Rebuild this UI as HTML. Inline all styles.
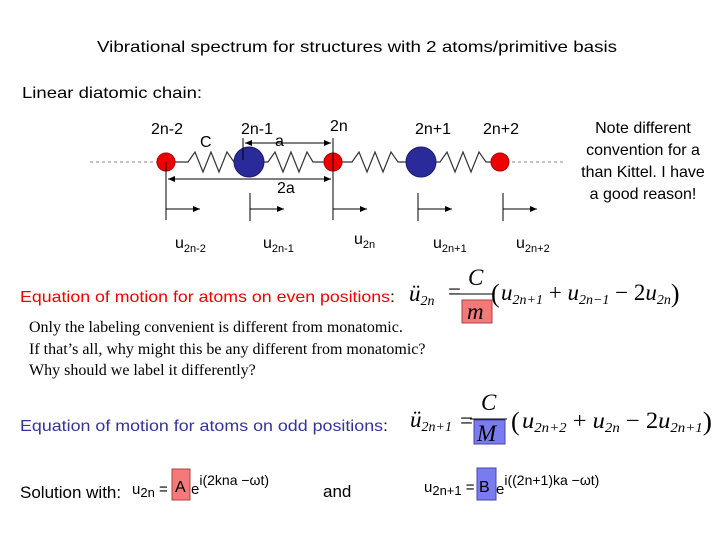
<!DOCTYPE html>
<html><head><meta charset="utf-8"><style>
html,body{margin:0;padding:0;background:#fff;width:720px;height:540px;overflow:hidden}
svg{display:block}
.s{font-family:"Liberation Sans",sans-serif}
.t{font-family:"Liberation Serif",serif}
</style></head><body>
<svg width="720" height="540" xmlns="http://www.w3.org/2000/svg">
<defs><marker id="ah" markerWidth="8" markerHeight="8" refX="7" refY="4" orient="auto" markerUnits="userSpaceOnUse"><path d="M0,1 L7,4 L0,7 z" fill="#000"/></marker>
<marker id="at" markerWidth="8" markerHeight="8" refX="1" refY="4" orient="auto" markerUnits="userSpaceOnUse"><path d="M8,1 L1,4 L8,7 z" fill="#000"/></marker></defs>
<text class="s" x="97" y="52" font-size="16" textLength="520" lengthAdjust="spacingAndGlyphs">Vibrational spectrum for structures with 2 atoms/primitive basis</text>
<text class="s" x="22" y="98" font-size="16" textLength="180" lengthAdjust="spacingAndGlyphs">Linear diatomic chain:</text>
<line x1="90" y1="162" x2="166" y2="162" stroke="#888" stroke-dasharray="3,3"/>
<line x1="500" y1="162" x2="566" y2="162" stroke="#888" stroke-dasharray="3,3"/>
<g fill="none" stroke="#333" stroke-width="1.2">
<polyline points="166,162 188,162 195,152 203,172 211,152 219,172 227,152 234,162 249,162"/>
<polyline points="249,162 268,162 275,152 283,172 291,152 299,172 307,152 313,162 333,162"/>
<polyline points="333,162 352,162 359,152 367,172 375,152 383,172 391,152 398,162 421,162"/>
<polyline points="421,162 440,162 447,152 455,172 463,152 471,172 479,152 486,162 500,162"/>
</g>
<circle cx="166" cy="162" r="9" fill="#e00" stroke="#a00"/>
<circle cx="333" cy="162" r="9" fill="#e00" stroke="#a00"/>
<circle cx="500" cy="162" r="9" fill="#e00" stroke="#a00"/>
<circle cx="249" cy="162" r="15" fill="#2a2a9a" stroke="#1a1a70"/>
<circle cx="421" cy="162" r="15" fill="#2a2a9a" stroke="#1a1a70"/>
<g stroke="#000" stroke-width="1">
<line x1="243" y1="138" x2="243" y2="160"/>
<line x1="333" y1="138" x2="333" y2="220"/>
<line x1="166" y1="162" x2="166" y2="220"/>
<line x1="250" y1="193" x2="250" y2="221"/>
<line x1="418" y1="193" x2="418" y2="221"/>
<line x1="503" y1="193" x2="503" y2="221"/>
<line x1="245" y1="143" x2="331" y2="143" marker-start="url(#at)" marker-end="url(#ah)"/>
<line x1="168" y1="179" x2="331" y2="179" marker-start="url(#at)" marker-end="url(#ah)"/>
<line x1="166" y1="209" x2="200" y2="209" marker-end="url(#ah)"/>
<line x1="250" y1="209" x2="284" y2="209" marker-end="url(#ah)"/>
<line x1="333" y1="209" x2="367" y2="209" marker-end="url(#ah)"/>
<line x1="418" y1="209" x2="452" y2="209" marker-end="url(#ah)"/>
<line x1="503" y1="209" x2="537" y2="209" marker-end="url(#ah)"/>
</g>
<g class="s" font-size="16">
<text x="151" y="134">2n-2</text>
<text x="241" y="134">2n-1</text><text x="275" y="146">a</text>
<text x="330" y="131">2n</text>
<text x="415" y="134">2n+1</text>
<text x="483" y="134">2n+2</text>
<text x="200" y="147">C</text>
<text x="277" y="193">2a</text>
<text x="175" y="248">u<tspan font-size="11" dy="4">2n-2</tspan></text>
<text x="263" y="248">u<tspan font-size="11" dy="4">2n-1</tspan></text>
<text x="354" y="244">u<tspan font-size="11" dy="4">2n</tspan></text>
<text x="433" y="248">u<tspan font-size="11" dy="4">2n+1</tspan></text>
<text x="516" y="248">u<tspan font-size="11" dy="4">2n+2</tspan></text>
<g text-anchor="middle"><text x="643" y="133">Note different</text><text x="643" y="155">convention for a</text><text x="643" y="177">than Kittel. I have</text><text x="643" y="199">a good reason!</text></g>
</g>
<text class="s" x="20" y="302" font-size="16" fill="#e00" textLength="375" lengthAdjust="spacingAndGlyphs">Equation of motion for atoms on even positions<tspan fill="#000">:</tspan></text>
<rect x="462" y="300" width="30" height="23" fill="#f47a7a" stroke="#a44"/>
<g class="t" font-size="23" font-style="italic">
<text x="409" y="301">ü<tspan font-size="14" dy="4">2n</tspan></text>
<text x="448" y="299" font-style="normal">=</text>
<text x="468" y="285">C</text>
<line x1="458" y1="294" x2="494" y2="294" stroke="#000"/>
<text x="467" y="319">m</text>
<text x="491" y="302" font-style="normal" font-size="26">(</text>
<text x="501" y="300">u<tspan font-size="14" dy="4">2n+1</tspan><tspan dy="-4" font-style="normal"> + </tspan>u<tspan font-size="14" dy="4">2n−1</tspan><tspan dy="-4" font-style="normal"> − 2</tspan>u<tspan font-size="14" dy="4">2n</tspan><tspan dy="-2" font-style="normal" font-size="26">)</tspan></text>
</g>
<g class="t" font-size="16">
<text x="29" y="332">Only the labeling convenient is different from monatomic.</text>
<text x="29" y="354">If that’s all, why might this be any different from monatomic?</text>
<text x="29" y="375">Why should we label it differently?</text>
</g>
<text class="s" x="20" y="431" font-size="16" fill="#33339a" textLength="368" lengthAdjust="spacingAndGlyphs">Equation of motion for atoms on odd positions<tspan fill="#000">:</tspan></text>
<rect x="474" y="420" width="31" height="24" fill="#7b7bf0" stroke="#44a"/>
<g class="t" font-size="23" font-style="italic">
<text x="410" y="427">ü<tspan font-size="14" dy="4">2n+1</tspan></text>
<text x="460" y="428" font-style="normal">=</text>
<text x="481" y="410">C</text>
<line x1="470" y1="419" x2="507" y2="419" stroke="#000"/>
<text x="477" y="441">M</text>
<text x="511" y="430" font-style="normal" font-size="26">(</text>
<text x="522" y="428" textLength="190" lengthAdjust="spacingAndGlyphs">u<tspan font-size="14" dy="4">2n+2</tspan><tspan dy="-4" font-style="normal"> + </tspan>u<tspan font-size="14" dy="4">2n</tspan><tspan dy="-4" font-style="normal"> − 2</tspan>u<tspan font-size="14" dy="4">2n+1</tspan><tspan dy="-2" font-style="normal" font-size="26">)</tspan></text>
</g>
<rect x="172" y="469" width="18" height="31" fill="#f47a7a" stroke="#a44"/>
<rect x="477" y="468" width="19" height="32" fill="#7b7bf0" stroke="#44a"/>
<g class="s">
<text x="20" y="498" font-size="17">Solution with:</text>
<text x="132" y="494" font-size="15">u<tspan font-size="13" dy="3">2n</tspan><tspan dy="-3"> =</tspan></text>
<text x="175" y="492" font-size="16">A</text>
<text x="191" y="494" font-size="15">e<tspan font-size="14" dy="-9">i(2kna −ωt)</tspan></text>
<text x="323" y="497" font-size="17">and</text>
<text x="424" y="492" font-size="15">u<tspan font-size="13" dy="3">2n+1</tspan><tspan dy="-3"> =</tspan></text>
<text x="479" y="492" font-size="16">B</text>
<text x="496" y="494" font-size="15">e<tspan font-size="14" dy="-9">i((2n+1)ka −ωt)</tspan></text>
</g>
</svg>
</body></html>
